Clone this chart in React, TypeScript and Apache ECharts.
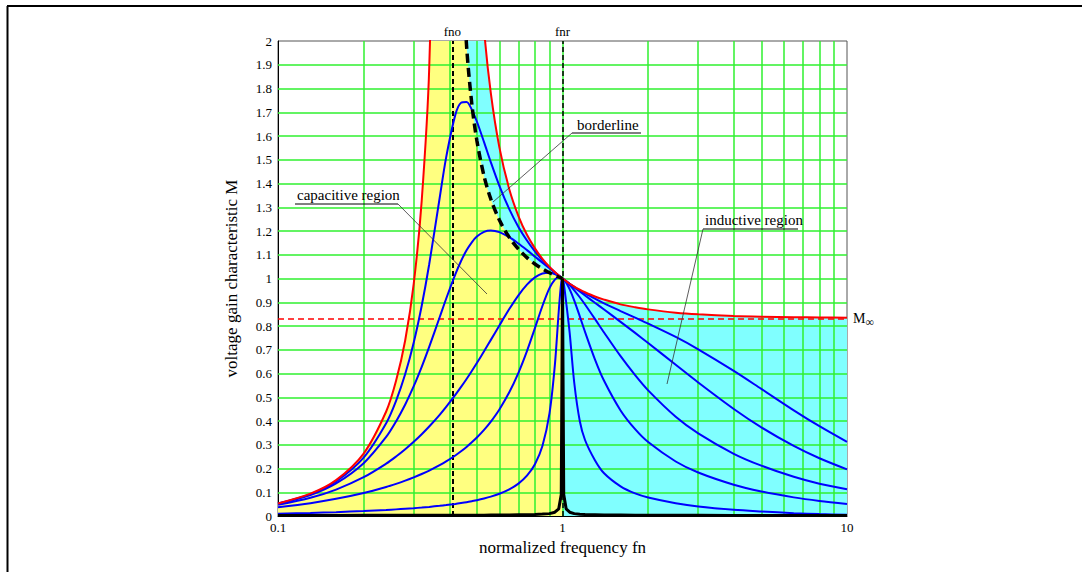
import React, { useEffect, useRef } from "react";
import * as echarts from "echarts";

// normalized frequency samples (fn)
const FN = [0.1, 0.13, 0.16, 0.2, 0.24, 0.26, 0.28, 0.3, 0.32, 0.34, 0.37, 0.39, 0.42, 0.44, 0.46, 0.48, 0.5, 0.53, 0.56, 0.6, 0.65, 0.7, 0.75, 0.8, 0.85, 0.9, 0.94, 0.97, 0.99, 1, 1.01, 1.03, 1.06, 1.1, 1.15, 1.2, 1.3, 1.4, 1.6, 1.8, 2, 2.5, 3, 4, 5, 6.5, 8, 10];

// red curve: no load
const GAIN_NO_LOAD = [0.053, 0.094, 0.151, 0.263, 0.44, 0.569, 0.74, 0.978, 1.328, 1.886, 3.83, 8.7, 15.1, 5.99, 3.92, 3.01, 2.5, 2.049, 1.779, 1.552, 1.376, 1.263, 1.184, 1.127, 1.083, 1.049, 1.027, 1.013, 1.004, 1, 0.996, 0.989, 0.978, 0.966, 0.953, 0.942, 0.924, 0.911, 0.891, 0.879, 0.87, 0.856, 0.849, 0.842, 0.839, 0.837, 0.836, 0.835];

// blue curves, light to heavy load
const GAIN_A = [0.0525, 0.092, 0.1458, 0.2461, 0.3907, 0.4851, 0.5976, 0.7307, 0.8855, 1.06, 1.339, 1.51, 1.689, 1.74, 1.743, 1.711, 1.661, 1.574, 1.489, 1.39, 1.292, 1.217, 1.16, 1.114, 1.077, 1.047, 1.026, 1.013, 1.004, 1, 0.996, 0.989, 0.978, 0.965, 0.95, 0.937, 0.915, 0.895, 0.863, 0.835, 0.81, 0.754, 0.702, 0.611, 0.535, 0.445, 0.378, 0.312];
const GAIN_B = [0.0514, 0.0886, 0.1374, 0.2225, 0.333, 0.3982, 0.4697, 0.5468, 0.6282, 0.712, 0.8367, 0.9148, 1.0176, 1.0736, 1.1186, 1.1525, 1.1765, 1.1966, 1.2024, 1.1954, 1.1741, 1.1473, 1.1194, 1.0922, 1.0666, 1.0429, 1.0249, 1.0123, 1.0041, 1, 0.9961, 0.9882, 0.9769, 0.9624, 0.945, 0.9287, 0.8978, 0.8694, 0.8175, 0.7709, 0.7284, 0.6367, 0.5621, 0.4506, 0.3732, 0.2949, 0.243, 0.1963];
const GAIN_C = [0.0471, 0.0766, 0.1112, 0.1633, 0.2204, 0.2504, 0.2811, 0.3124, 0.3443, 0.3767, 0.426, 0.4593, 0.5097, 0.5434, 0.5771, 0.6108, 0.6442, 0.6935, 0.7416, 0.8024, 0.8712, 0.9293, 0.9744, 1.0049, 1.0212, 1.0244, 1.0188, 1.0108, 1.0039, 1, 0.9959, 0.987, 0.9722, 0.9504, 0.9211, 0.8907, 0.8299, 0.7725, 0.6728, 0.593, 0.5291, 0.418, 0.348, 0.262, 0.212, 0.165, 0.136, 0.113];
const GAIN_D = [0.0366, 0.0541, 0.0722, 0.0969, 0.1223, 0.1354, 0.1488, 0.1625, 0.1767, 0.1912, 0.214, 0.2299, 0.2549, 0.2725, 0.2909, 0.3102, 0.3304, 0.3627, 0.3976, 0.4487, 0.5209, 0.603, 0.6944, 0.7911, 0.8843, 0.9593, 0.9953, 1.0051, 1.0033, 1, 0.9953, 0.9819, 0.9539, 0.9067, 0.8408, 0.7753, 0.6598, 0.5692, 0.4445, 0.3654, 0.3112, 0.2294, 0.1831, 0.1317, 0.1034, 0.0784, 0.0633, 0.0504];
const GAIN_E = [0.0099, 0.0131, 0.0163, 0.0208, 0.0254, 0.0279, 0.0304, 0.0329, 0.0356, 0.0384, 0.0429, 0.046, 0.051, 0.0546, 0.0583, 0.0624, 0.0666, 0.0737, 0.0815, 0.0936, 0.1122, 0.1364, 0.1697, 0.218, 0.2947, 0.4318, 0.6349, 0.862, 0.9843, 1, 0.98, 0.9, 0.77, 0.56, 0.4, 0.32, 0.235, 0.18, 0.125, 0.095, 0.078, 0.054, 0.04, 0.026, 0.019, 0.012, 0.008, 0.005];
// black curve: short circuit
const GAIN_SHORT = [0.002, 0.002, 0.002, 0.003, 0.003, 0.003, 0.003, 0.003, 0.003, 0.003, 0.003, 0.003, 0.003, 0.003, 0.003, 0.003, 0.003, 0.003, 0.004, 0.004, 0.004, 0.005, 0.005, 0.006, 0.008, 0.01, 0.016, 0.03, 0.09, 1, 0.09, 0.03, 0.016, 0.01, 0.007, 0.006, 0.005, 0.004, 0.004, 0.003, 0.003, 0.003, 0.003, 0.002, 0.002, 0.002, 0.002, 0.002];

// borderline between capacitive and inductive regions
const BORDER_FN = [0.42, 0.44, 0.46, 0.48, 0.5, 0.53, 0.56, 0.6, 0.65, 0.7, 0.75, 0.8, 0.85, 0.9, 0.94, 0.97, 0.99, 1];
const BORDER_M = [3.89, 2.447, 1.981, 1.735, 1.581, 1.431, 1.334, 1.246, 1.173, 1.124, 1.088, 1.061, 1.041, 1.024, 1.0135, 1.0063, 1.002, 1];

const FNO = 0.408;
const FNR = 1;
const M_INF = 0.833;

const X_GRID = [0.2, 0.3, 0.4, 0.5, 0.6, 0.7, 0.8, 0.9, 1, 2, 3, 4, 5, 6, 7, 8, 9];
const Y_GRID = [0.1, 0.2, 0.3, 0.4, 0.5, 0.6, 0.7, 0.8, 0.9, 1, 1.1, 1.2, 1.3, 1.4, 1.5, 1.6, 1.7, 1.8, 1.9];

const SERIF = '"Liberation Serif", "Times New Roman", serif';
const GREEN = "#2ff02f";
const BLUE = "#0000ff";
const SMOOTH = 0.3;

function pairs(values: number[]) {
  return FN.map((f, i) => [f, values[i]]);
}

export default function App() {
  const ref = useRef<HTMLDivElement>(null);
  useEffect(() => {
    const chart = echarts.init(ref.current!, null, { renderer: "svg" });
    const redLeft = FN.map((f, i) => [f, GAIN_NO_LOAD[i]]).filter((p) => p[0] < FNO);
    const redRight = FN.map((f, i) => [f, GAIN_NO_LOAD[i]]).filter((p) => p[0] > FNO);
    const border = BORDER_FN.map((f, i) => [f, BORDER_M[i]]);
    const yellow = [...redLeft, ...border];

    const blueSeries = [GAIN_A, GAIN_B, GAIN_C, GAIN_D, GAIN_E].map((vals, k) => ({
      name: "load" + k,
      type: "line",
      data: pairs(vals),
      showSymbol: false,
      symbol: "none",
      smooth: SMOOTH,
      z: 10,
      lineStyle: { color: BLUE, width: 2 },
      silent: true,
    }));

    const option: any = {
      animation: false,
      backgroundColor: "#ffffff",
      grid: { left: 278, right: 235, top: 41, bottom: 56, show: true, borderColor: "#555", borderWidth: 1 },
      xAxis: {
        type: "log",
        logBase: 10,
        min: 0.1,
        max: 10,
        axisLine: { show: true, lineStyle: { color: "#000", width: 1 } },
        axisTick: { show: false },
        splitLine: { show: false },
        axisLabel: {
          color: "#000",
          fontFamily: SERIF,
          fontSize: 13,
          margin: 5,
          formatter: (v: number) => String(+v.toPrecision(6)),
        },
        name: "normalized frequency fn",
        nameLocation: "middle",
        nameGap: 19,
        nameTextStyle: { color: "#000", fontFamily: SERIF, fontSize: 17 },
      },
      yAxis: {
        type: "value",
        min: 0,
        max: 2,
        interval: 0.1,
        axisLine: { show: true, lineStyle: { color: "#000", width: 1 } },
        axisTick: { show: false },
        splitLine: { show: false },
        axisLabel: {
          color: "#000",
          fontFamily: SERIF,
          fontSize: 13,
          margin: 6,
          formatter: (v: number) => String(Math.round(v * 10) / 10),
        },
        name: "voltage gain characteristic M",
        nameLocation: "middle",
        nameRotate: 90,
        nameGap: 38,
        nameTextStyle: { color: "#000", fontFamily: SERIF, fontSize: 17 },
      },
      series: [
        {
          name: "inductive",
          type: "line",
          data: redRight,
          showSymbol: false,
          symbol: "none",
          smooth: SMOOTH,
          z: 1,
          silent: true,
          lineStyle: { width: 0, opacity: 0 },
          areaStyle: { color: "#80ffff", opacity: 1 },
          markLine: {
            silent: true,
            symbol: ["none", "none"],
            label: { show: false },
            emphasis: { disabled: true },
            lineStyle: { color: GREEN, width: 1.5, type: "solid" },
            data: [...X_GRID.map((v) => ({ xAxis: v })), ...Y_GRID.map((v) => ({ yAxis: v }))],
          },
        },
        {
          name: "capacitive",
          type: "line",
          data: yellow,
          showSymbol: false,
          symbol: "none",
          smooth: SMOOTH,
          z: 2,
          silent: true,
          lineStyle: { width: 0, opacity: 0 },
          areaStyle: { color: "#ffff80", opacity: 1 },
        },
        {
          name: "noLoadLeft",
          type: "line",
          data: redLeft,
          showSymbol: false,
          symbol: "none",
          smooth: SMOOTH,
          z: 11,
          silent: true,
          lineStyle: { color: "#ff0000", width: 2 },
        },
        {
          name: "noLoadRight",
          type: "line",
          data: redRight,
          showSymbol: false,
          symbol: "none",
          smooth: SMOOTH,
          z: 11,
          silent: true,
          lineStyle: { color: "#ff0000", width: 2 },
        },
        ...blueSeries,
        {
          name: "short",
          type: "line",
          data: pairs(GAIN_SHORT),
          showSymbol: false,
          symbol: "none",
          z: 12,
          silent: true,
          lineStyle: { color: "#000", width: 3 },
          markLine: {
            silent: true,
            z: 6,
            symbol: ["none", "none"],
            emphasis: { disabled: true },
            label: { color: "#000", fontFamily: SERIF, fontSize: 13, distance: 3 },
            data: [
              { xAxis: FNO, label: { formatter: "fno" }, lineStyle: { color: "#000", width: 2, type: [5, 3] } },
              { xAxis: FNR, label: { formatter: "fnr" }, lineStyle: { color: "#000", width: 1.5, type: [5, 3] } },
              {
                yAxis: M_INF,
                label: {
                  formatter: "{m|M}{s|∞}",
                  distance: 6,
                  rich: {
                    m: { fontFamily: SERIF, fontSize: 14, color: "#000" },
                    s: { fontFamily: SERIF, fontSize: 12, color: "#000", padding: [6, 0, 0, 0] },
                  },
                },
                lineStyle: { color: "#ff0000", width: 1.5, type: [6, 4] },
              },
            ],
          },
        },
        {
          name: "borderline",
          type: "line",
          data: border,
          showSymbol: false,
          symbol: "none",
          smooth: SMOOTH,
          z: 13,
          silent: true,
          lineStyle: { color: "#000", width: 3.5, type: [9, 5] },
        },
      ],
      graphic: [
        { type: "line", shape: { x1: 7, y1: 6, x2: 1082, y2: 6 }, style: { stroke: "#000", lineWidth: 2 }, silent: true },
        { type: "line", shape: { x1: 7.5, y1: 6, x2: 7.5, y2: 572 }, style: { stroke: "#000", lineWidth: 2 }, silent: true },
        // capacitive region label
        { type: "text", x: 297, y: 195, style: { text: "capacitive region", fontFamily: SERIF, fontSize: 15, fill: "#000", verticalAlign: "middle" }, z: 100 },
        { type: "line", shape: { x1: 295, y1: 204, x2: 398, y2: 204 }, style: { stroke: "#000", lineWidth: 1 }, z: 100 },
        { type: "line", shape: { x1: 398, y1: 204, x2: 487, y2: 294 }, style: { stroke: "#333", lineWidth: 0.8 }, z: 100 },
        // borderline label
        { type: "text", x: 577, y: 125, style: { text: "borderline", fontFamily: SERIF, fontSize: 15, fill: "#000", verticalAlign: "middle" }, z: 100 },
        { type: "line", shape: { x1: 572, y1: 133, x2: 641, y2: 133 }, style: { stroke: "#000", lineWidth: 1 }, z: 100 },
        { type: "line", shape: { x1: 572, y1: 133, x2: 493, y2: 202 }, style: { stroke: "#333", lineWidth: 0.8 }, z: 100 },
        // inductive region label
        { type: "text", x: 705, y: 220, style: { text: "inductive region", fontFamily: SERIF, fontSize: 15, fill: "#000", verticalAlign: "middle" }, z: 100 },
        { type: "line", shape: { x1: 703, y1: 229, x2: 798, y2: 229 }, style: { stroke: "#000", lineWidth: 1 }, z: 100 },
        { type: "line", shape: { x1: 703, y1: 229, x2: 667, y2: 384 }, style: { stroke: "#333", lineWidth: 0.8 }, z: 100 },
      ],
    };
    chart.setOption(option);
    return () => chart.dispose();
  }, []);
  return <div ref={ref} style={{ position: "fixed", left: 0, top: 0, width: 1082, height: 572 }} />;
}
